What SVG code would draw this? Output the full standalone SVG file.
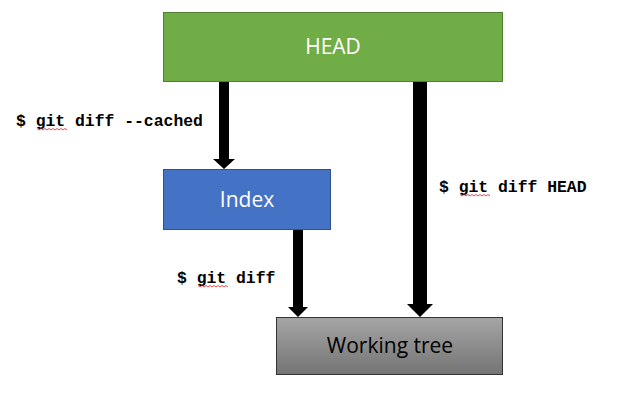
<svg xmlns="http://www.w3.org/2000/svg" width="623" height="410" viewBox="0 0 623 410">
  <defs>
    <linearGradient id="grayGrad" x1="0" y1="0" x2="0" y2="1">
      <stop offset="0" stop-color="#a5a5a5"/>
      <stop offset="1" stop-color="#747474"/>
    </linearGradient>
  </defs>
  <style>
    .node-label { font-family: "Open Sans", "Liberation Sans", sans-serif; font-size: 21px; text-anchor: middle; }
    .cmd { font-family: "Liberation Mono", "DejaVu Sans Mono", monospace; font-weight: bold; font-size: 16.4px; fill: #000; }
    .arrow { fill: #000; }
    .squiggle { fill: none; stroke: #e02020; stroke-width: 0.8; }
  </style>
  <rect width="623" height="410" fill="#ffffff"/>

  <g id="connectors">
    <path class="arrow" d="M219,81 H229 V159 H235 L224,169 L213,159 H219 Z"/>
    <path class="arrow" d="M413,81 H427 V304 H433 L420,317 L407,304 H413 Z"/>
    <path class="arrow" d="M293,229 H303 V307 H308 L298,317 L288,307 H293 Z"/>
  </g>

  <g id="node-head">
    <rect x="163.5" y="12.5" width="339" height="69" fill="#70ad47" stroke="#507e32" stroke-width="1"/>
    <text class="node-label" x="333" y="54" fill="#ffffff">HEAD</text>
  </g>

  <g id="node-index">
    <rect x="163.5" y="169.5" width="167" height="60" fill="#4472c4" stroke="#2f528f" stroke-width="1"/>
    <text class="node-label" x="247" y="207" fill="#ffffff">Index</text>
  </g>

  <g id="node-working-tree">
    <rect x="276.5" y="317.5" width="226" height="57" fill="url(#grayGrad)" stroke="#333333" stroke-width="1"/>
    <text class="node-label" x="390" y="353" fill="#000000">Working tree</text>
  </g>

  <g id="labels">
    <text class="cmd" x="16" y="126">$ git diff --cached</text>
    <path class="squiggle" d="M37,128.5 l2,1.5 l2,-1.5 l2,1.5 l2,-1.5 l2,1.5 l2,-1.5 l2,1.5 l2,-1.5 l2,1.5 l2,-1.5 l2,1.5 l2,-1.5 l2,1.5 l2,-1.5 l2,1.5"/>
    <text class="cmd" x="177" y="283">$ git diff</text>
    <path class="squiggle" d="M198,285.5 l2,1.5 l2,-1.5 l2,1.5 l2,-1.5 l2,1.5 l2,-1.5 l2,1.5 l2,-1.5 l2,1.5 l2,-1.5 l2,1.5 l2,-1.5 l2,1.5 l2,-1.5 l2,1.5"/>
    <text class="cmd" x="439" y="192">$ git diff HEAD</text>
    <path class="squiggle" d="M460,194.5 l2,1.5 l2,-1.5 l2,1.5 l2,-1.5 l2,1.5 l2,-1.5 l2,1.5 l2,-1.5 l2,1.5 l2,-1.5 l2,1.5 l2,-1.5 l2,1.5 l2,-1.5 l2,1.5"/>
  </g>
</svg>
